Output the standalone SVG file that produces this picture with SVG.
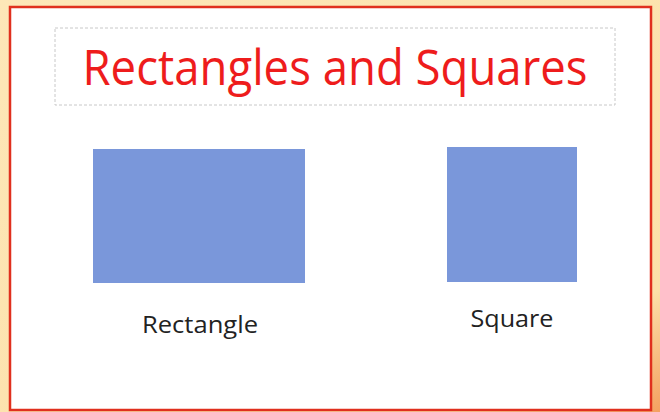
<svg xmlns="http://www.w3.org/2000/svg" width="660" height="412" viewBox="0 0 660 412">
<style>
.lbl{font-family:"Open Sans","Liberation Sans",sans-serif;fill:#222;font-size:23px;text-anchor:middle}
.shape{fill:#7a97da}
</style>
<defs>
<linearGradient id="bg" x1="0" y1="0" x2="1" y2="1">
<stop offset="0" stop-color="#fde7b8"/>
<stop offset="0.85" stop-color="#fce0a8"/>
<stop offset="1" stop-color="#f4a060"/>
</linearGradient>
</defs>
<rect x="0" y="0" width="660" height="412" fill="url(#bg)"/>
<rect x="10" y="7" width="641" height="403" fill="#ffffff" stroke="#e0301e" stroke-width="2.5"/>
<g id="title">
<rect x="55" y="28" width="560" height="77" fill="none" stroke="#c8c8c8" stroke-width="1" stroke-dasharray="3,2"/>
<text x="335" y="85" font-family="Open Sans,Liberation Sans,sans-serif" font-size="49" fill="#ee1c1c" text-anchor="middle" textLength="505" lengthAdjust="spacingAndGlyphs">Rectangles and Squares</text>
</g>
<g id="rectangle">
<rect class="shape" x="93" y="149" width="212" height="134"/>
<text class="lbl" x="200" y="333" textLength="116" lengthAdjust="spacingAndGlyphs">Rectangle</text>
</g>
<g id="square">
<rect class="shape" x="447" y="147" width="130" height="135"/>
<text class="lbl" x="512" y="327" textLength="83" lengthAdjust="spacingAndGlyphs">Square</text>
</g>
</svg>
